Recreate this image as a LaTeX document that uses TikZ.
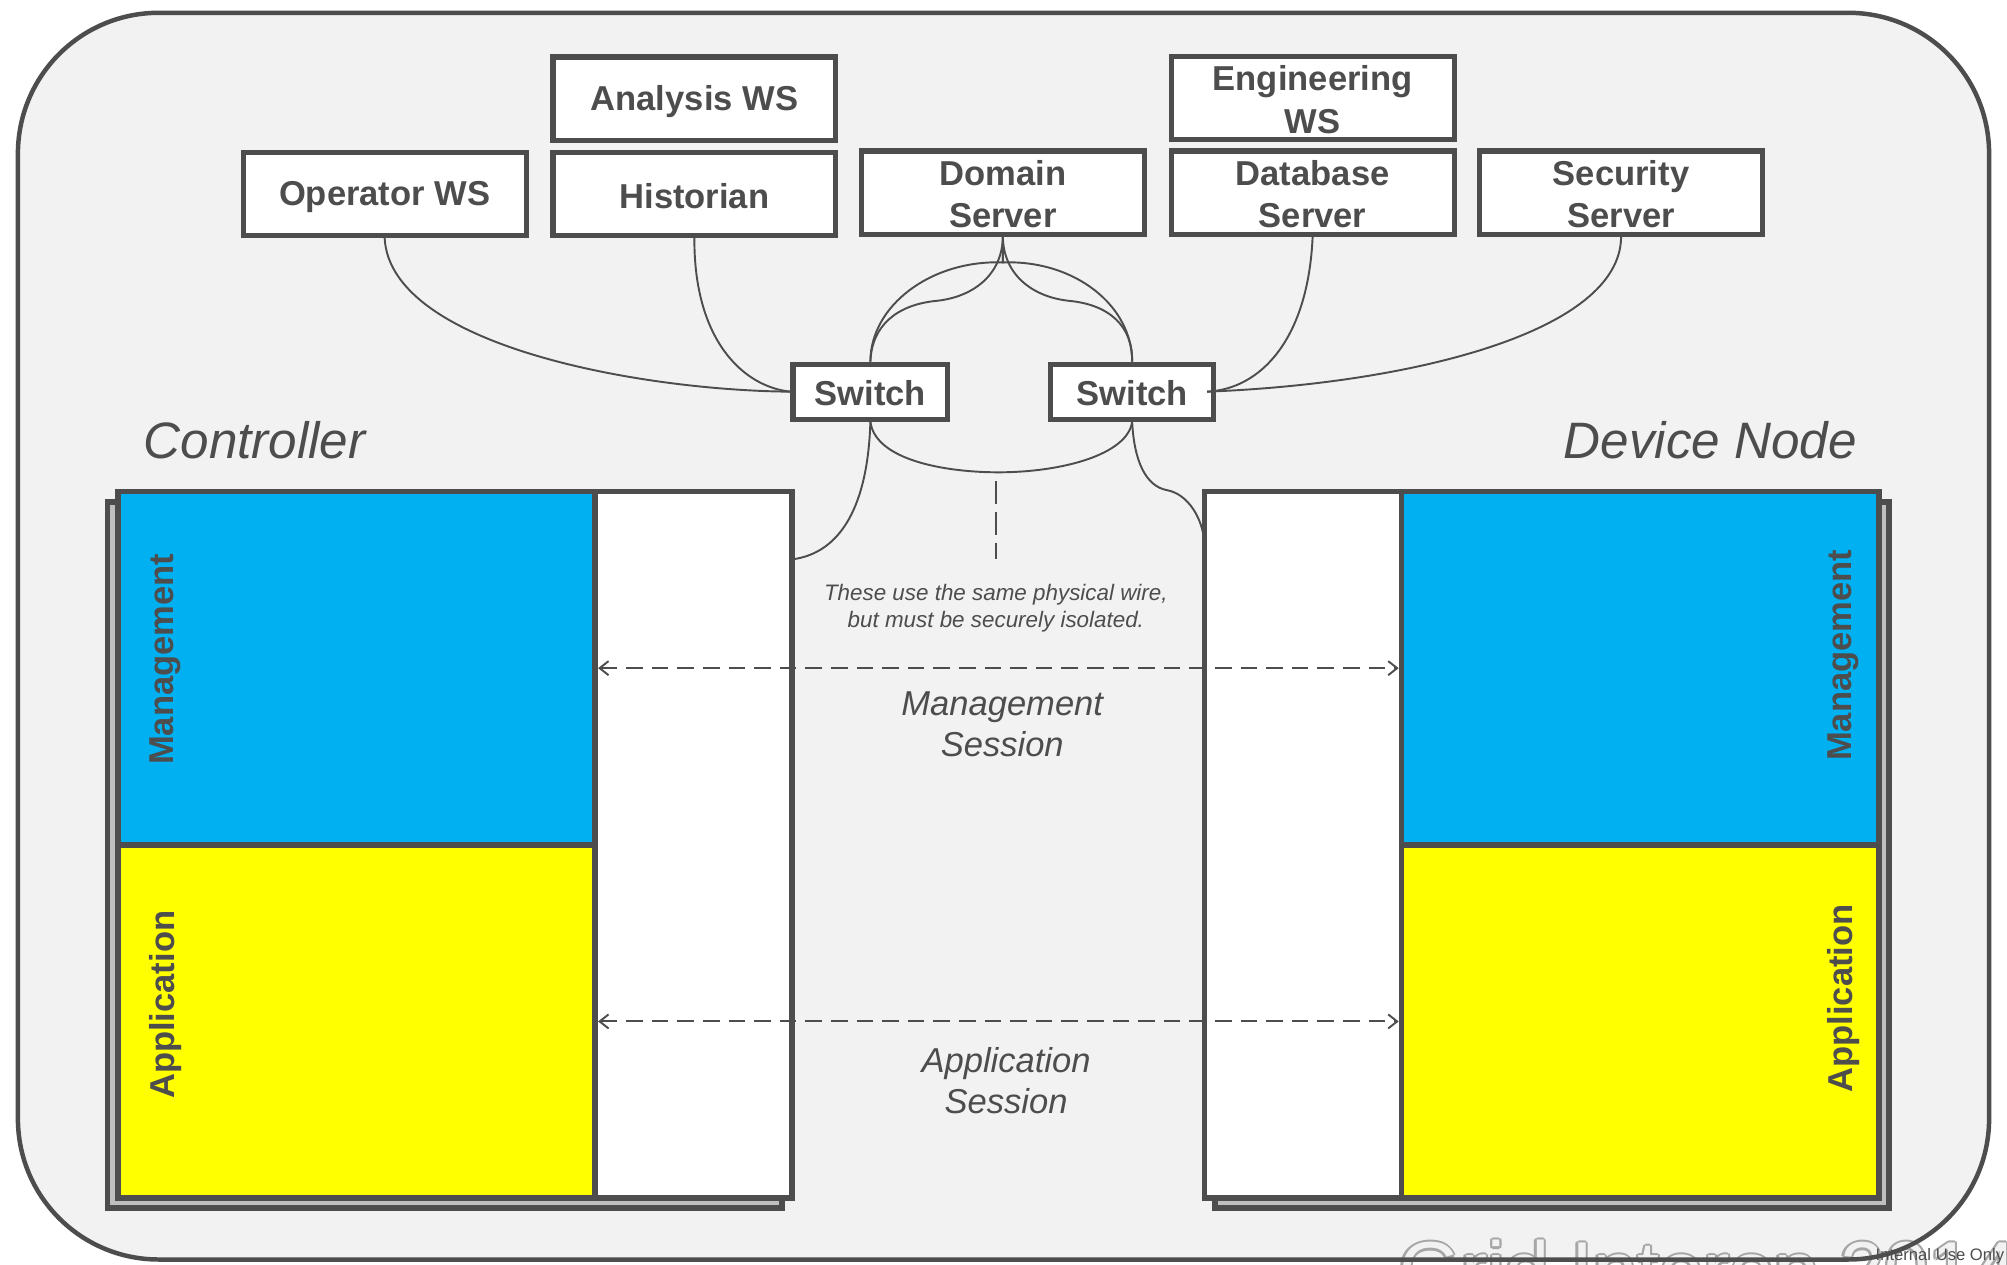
\documentclass[tikz,border=0pt]{standalone}
\usepackage{fontspec}
\setmainfont{Liberation Sans}
\usetikzlibrary{arrows.meta}
\definecolor{bgpanel}{HTML}{F2F2F2}
\definecolor{ink}{HTML}{4D4D4D}
\definecolor{mgmtblue}{HTML}{00B0F0}
\definecolor{appyellow}{HTML}{FFFF00}
\definecolor{shadowgray}{HTML}{BFBFBF}
\definecolor{wmgray}{HTML}{A6A6A6}
% line strut for box labels: 24pt above, 2pt below the baseline
\newcommand\boxstrut{\rule[-2pt]{0pt}{26pt}}

\begin{document}
\begin{tikzpicture}[x=1pt,y=-1pt,
  hostbox/.style={draw=ink, line width=4pt, fill=white, text=ink, inner sep=0pt,
    minimum width=221pt, minimum height=65pt, align=center,
    font=\fontsize{27}{33}\selectfont\bfseries},
  switchbox/.style={hostbox, minimum width=121pt, minimum height=43pt},
  layer/.style={draw=ink, line width=4.5pt, inner sep=0pt,
    minimum width=373pt, minimum height=276pt},
  netcol/.style={draw=ink, line width=4.5pt, fill=white, inner sep=0pt,
    minimum width=154pt, minimum height=552pt},
  backplate/.style={draw=ink, line width=4.5pt, fill=shadowgray, inner sep=0pt,
    minimum width=527pt, minimum height=552pt},
  layerlabel/.style={rotate=90, text=ink, inner sep=0pt,
    font=\fontsize{27}{32}\selectfont\bfseries},
  wire/.style={draw=ink, line width=1.5pt},
  session/.style={draw=ink, line width=1.5pt, dash pattern=on 13pt off 7pt,
    <->, >={Straight Barb[length=7pt,width=11pt]}},
  isolation/.style={draw=ink, line width=1.5pt, dash pattern=on 18pt off 6pt},
  nodetitle/.style={text=ink, inner sep=0pt, font=\fontsize{40}{46}\selectfont\itshape},
  sesslabel/.style={text=ink, inner sep=0pt, align=center,
    font=\fontsize{27}{32}\selectfont\itshape},
  notelabel/.style={text=ink, inner sep=0pt, align=center,
    font=\fontsize{17.5}{21}\selectfont\itshape},
  wmtext/.style={anchor=base west, inner sep=0pt, font=\fontsize{62}{70}\selectfont}
]
\useasboundingbox (0,0) rectangle (1568,988);
\fill[white] (0,0) rectangle (1568,988);

% panel
\fill[bgpanel, rounded corners=110pt] (14,10) rectangle (1554,984);

% footer marks
\begin{scope}
  \clip (0,0) rectangle (1568,988);
  \foreach \dx/\dy in {-1.8/0,1.8/0,0/-1.8,0/1.8,-1.3/-1.3,1.3/1.3,-1.3/1.3,1.3/-1.3}
    \node[wmtext, text=wmgray] at (1093+\dx,1014+\dy) {Grid Interop 2014};
  \node[wmtext, text=bgpanel] (wm) at (1093,1014) {Grid Interop 2014};
  \node[anchor=base east, inner sep=0pt, text=ink, font=\fontsize{13}{15}\selectfont]
    (tag) at (1566,985) {Internal Use Only};
\end{scope}

\draw[ink, line width=3.5pt, rounded corners=110pt] (14,10) rectangle (1554,984);

% controller stack
\node[backplate] (csh) at (347.5,668) {};
\node[layer, fill=mgmtblue] (cmg) at (278.5,522) {};
\node[layer, fill=appyellow] (cap) at (278.5,798) {};
\node[netcol] (cnet) at (542,660) {};
\node[layerlabel] (cmgl) at (129,515) {Management};
\node[layerlabel] (capl) at (129,785) {Application};

% device node stack
\node[backplate] (dsh) at (1212.5,668) {};
\node[netcol] (dnet) at (1018,660) {};
\node[layer, fill=mgmtblue] (dmg) at (1281.5,522) {};
\node[layer, fill=appyellow] (dap) at (1281.5,798) {};
\node[layerlabel] (dmgl) at (1440,512) {Management};
\node[layerlabel] (dapl) at (1440,780) {Application};

% titles
\node[nodetitle, anchor=base west] (ctl) at (112,358) {Controller};
\node[nodetitle, anchor=base east] (dev) at (1451,358) {Device Node};

% hosts
\node[hostbox] (an)  at (542.5,77)    {\boxstrut Analysis WS};
\node[hostbox] (eng) at (1025.5,76.5) {\boxstrut Engineering\\\boxstrut WS};
\node[hostbox] (op)  at (300.5,151.5) {\boxstrut Operator WS};
\node[hostbox] (hi)  at (542.5,151.5) {\boxstrut Historian};
\node[hostbox] (dom) at (783.5,150.5) {\boxstrut Domain\\\boxstrut Server};
\node[hostbox] (db)  at (1025.5,150.5) {\boxstrut Database\\\boxstrut Server};
\node[hostbox] (sec) at (1266.5,150.5) {\boxstrut Security\\\boxstrut Server};

% switches
\node[switchbox] (swa) at (680,306) {\boxstrut Switch};
\node[switchbox, minimum width=127pt] (swb) at (884.5,306) {\boxstrut Switch};

% wire end points
\coordinate (cport) at (619,437);
\coordinate (dport) at (941,425);
\coordinate (swbin) at (943,306);
\coordinate (isotop) at (778,376);
\coordinate (isobot) at (778,437);

% wiring
\draw[wire] (op.south) .. controls (305,270) and (500,305) .. (swa.west);
\draw[wire] (hi.south) .. controls (542,265) and (580,302) .. (swa.west);
\draw[wire] (dom.south) .. controls (783,215) and (760,232) .. (732,235)
  .. controls (700,238) and (681,255) .. (swa.north);
\draw[wire] (dom.south) .. controls (784,215) and (807,232) .. (835,235)
  .. controls (867,238) and (885,255) .. (swb.north);
\draw[wire] (dom.south) -- ++(0,20) .. controls (727,203) and (680,239) .. (swa.north);
\draw[wire] (dom.south) -- ++(0,20) .. controls (840,203) and (884.5,239) .. (swb.north);
\draw[wire] (swa.south) .. controls (684,360) and (740,369) .. (780,369)
  .. controls (830,369) and (881,355) .. (swb.south);
\draw[wire] (swa.south) .. controls (678,395) and (657,432) .. (cport);
\draw[wire] (swb.south) .. controls (886,360) and (895,380) .. (912,383)
  .. controls (928,386) and (940,405) .. (dport);
\draw[wire] (db.south) .. controls (1022,265) and (985,304) .. (swbin);
\draw[wire] (sec.south) .. controls (1266,260) and (1100,300) .. (swbin);

% shared medium note
\draw[isolation] (isotop) -- (isobot);
\node[notelabel] (iso) at (778,475) {These use the same physical wire,\\but must be securely isolated.};

% sessions
\draw[session] (cmg.east) -- (dmg.west);
\draw[session] (cap.east) -- (dap.west);
\node[sesslabel] (msl) at (783,566) {Management\\Session};
\node[sesslabel] (asl) at (786,844) {Application\\Session};
\end{tikzpicture}
\end{document}
